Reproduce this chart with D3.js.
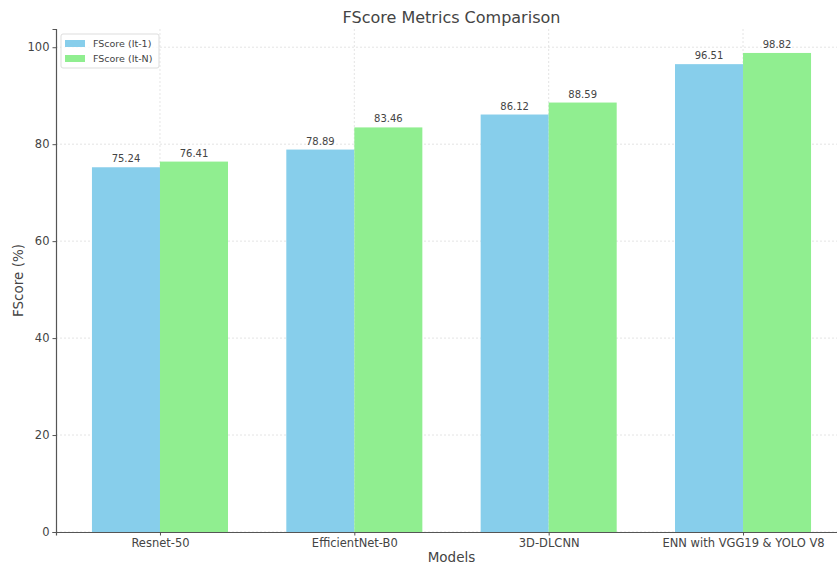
<!DOCTYPE html>
<html>
<head>
<meta charset="utf-8">
<script src="https://cdn.jsdelivr.net/npm/d3@7"></script>
<style>
  body { margin: 0; background: #fff; }
  svg { font-family: "DejaVu Sans", sans-serif; }
</style>
</head>
<body>
<div id="chart"></div>
<script>
// datos
const models = ["Resnet-50", "EfficientNet-B0", "3D-DLCNN", "ENN with VGG19 & YOLO V8"];
const seriesNames = ["FScore (It-1)", "FScore (It-N)"];
const fscoreIt1 = [75.24, 78.89, 86.12, 96.51];
const fscoreItN = [76.41, 83.46, 88.59, 98.82];
const yTicks = [0, 20, 40, 60, 80, 100];
const colors = ["#87CEEB", "#90EE90"];

const W = 837, H = 567;
const margin = { top: 29, right: -10, bottom: 35, left: 56 };
const width = W - margin.left - margin.right;
const height = H - margin.top - margin.bottom;

const svg = d3.select("#chart")
    .append("svg")
    .attr("width", W)
    .attr("height", H)
    .append("g")
    .attr("transform", `translate(${margin.left}, ${margin.top})`);

// Escalas (como matplotlib: índice numérico con márgenes)
const barW = 0.35;
const x = d3.scaleLinear()
    .domain([-0.535, models.length - 1 + 0.535])
    .range([0, width]);

const y = d3.scaleLinear()
    .domain([0, d3.max(fscoreItN) * 1.05])
    .range([height, 0]);

// Rejilla
svg.append("g")
    .selectAll("line")
    .data(yTicks)
    .enter().append("line")
    .attr("x1", 0).attr("x2", width)
    .attr("y1", d => y(d)).attr("y2", d => y(d))
    .attr("stroke", "#ddd")
    .attr("stroke-width", 0.8)
    .attr("stroke-dasharray", "2,2");

svg.append("g")
    .selectAll("line")
    .data(models)
    .enter().append("line")
    .attr("x1", (d, i) => x(i)).attr("x2", (d, i) => x(i))
    .attr("y1", 0).attr("y2", height)
    .attr("stroke", "#ddd")
    .attr("stroke-width", 0.8)
    .attr("stroke-dasharray", "2,2");

// Barras
const series = [fscoreIt1, fscoreItN];
series.forEach((vals, s) => {
    const off = s === 0 ? -barW : 0;
    svg.selectAll(".bar" + s)
        .data(vals)
        .enter().append("rect")
        .attr("class", "bar" + s)
        .attr("x", (d, i) => x(i + off))
        .attr("y", d => y(d))
        .attr("width", x(barW) - x(0))
        .attr("height", d => height - y(d))
        .attr("fill", colors[s]);

    svg.selectAll(".lbl" + s)
        .data(vals)
        .enter().append("text")
        .attr("class", "lbl" + s)
        .attr("x", (d, i) => x(i + off + barW / 2))
        .attr("y", d => y(d) - 5)
        .attr("text-anchor", "middle")
        .style("font-size", "10px")
        .style("fill", "#444")
        .text(d => d3.format(".2f")(d));
});

// Ejes
const xAxis = svg.append("g")
    .attr("transform", `translate(0, ${height})`)
    .call(d3.axisBottom(x).tickValues(d3.range(models.length)).tickFormat(i => models[i]).tickSize(3.5).tickPadding(3));

const yAxis = svg.append("g")
    .call(d3.axisLeft(y).tickValues(yTicks).tickSize(3.5).tickPadding(3));

[xAxis, yAxis].forEach(a => {
    a.select(".domain").attr("stroke", "#555").attr("stroke-width", 1.2);
    a.selectAll(".tick line").attr("stroke", "#555");
    a.selectAll(".tick text").style("font-size", "11.5px").style("fill", "#444").style("font-family", "DejaVu Sans");
});

// Título y etiquetas
svg.append("text")
    .attr("x", width / 2)
    .attr("y", -6)
    .attr("text-anchor", "middle")
    .style("font-size", "16px")
    .style("fill", "#444")
    .text("FScore Metrics Comparison");

svg.append("text")
    .attr("x", width / 2)
    .attr("y", height + 30)
    .attr("text-anchor", "middle")
    .style("font-size", "13.5px")
    .style("fill", "#444")
    .text("Models");

svg.append("text")
    .attr("transform", "rotate(-90)")
    .attr("x", -height / 2)
    .attr("y", -33)
    .attr("text-anchor", "middle")
    .style("font-size", "13.5px")
    .style("fill", "#444")
    .text("FScore (%)");

// Leyenda
const legend = svg.append("g").attr("transform", "translate(5, 5)");
legend.append("rect")
    .attr("width", 98).attr("height", 34)
    .attr("rx", 2)
    .attr("fill", "#fff")
    .attr("fill-opacity", 0.8)
    .attr("stroke", "#ddd");
seriesNames.forEach((name, i) => {
    legend.append("rect")
        .attr("x", 4).attr("y", 6 + i * 15)
        .attr("width", 20).attr("height", 7)
        .attr("fill", colors[i]);
    legend.append("text")
        .attr("x", 32).attr("y", 13 + i * 15)
        .style("font-size", "9.5px")
        .style("fill", "#444")
        .text(name);
});
</script>
</body>
</html>
